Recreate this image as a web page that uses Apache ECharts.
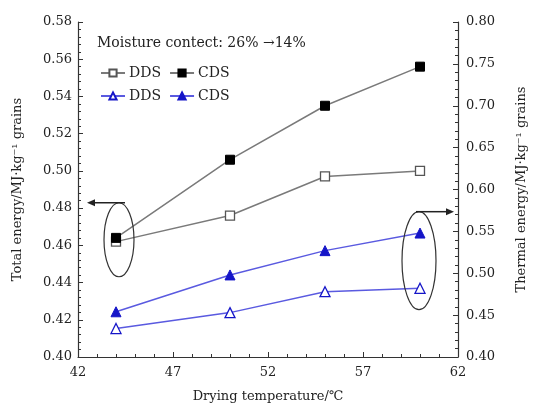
<!DOCTYPE html>
<html>
<head>
<meta charset="utf-8">
<script src="https://cdn.jsdelivr.net/npm/echarts@6/dist/echarts.min.js"></script>
<style>
html,body{margin:0;padding:0;background:#fff;}
#chart{width:536px;height:408px;}
</style>
</head>
<body>
<div id="chart"></div>
<script>
// ---- data ----
var temps = [44, 50, 55, 60];
var totalDDS = [0.462, 0.476, 0.497, 0.500];
var totalCDS = [0.464, 0.506, 0.535, 0.556];
var thermalDDS = [0.434, 0.453, 0.478, 0.482];
var thermalCDS = [0.454, 0.498, 0.527, 0.548];
var legendTitle = 'Moisture contect: 26% \u219214%';
var xName = 'Drying temperature/\u2103';
var yLeftName = 'Total energy/MJ\u00b7kg\u207b\u00b9 grains';
var yRightName = 'Thermal energy/MJ\u00b7kg\u207b\u00b9 grains';

function pairs(xs, ys) { return xs.map(function (x, i) { return [x, ys[i]]; }); }

var FONT = 'DejaVu Serif';
var axisColor = '#333';
var textColor = '#222';
var grayLine = '#7a7a7a';
var blueLine = '#5a5ae0';
var blueMark = '#1515c8';

var chart = echarts.init(document.getElementById('chart'), null, {renderer: 'canvas'});

function valAxis(min, max, interval, extra) {
  var a = {
    type: 'value', min: min, max: max, interval: interval,
    axisLine: {show: true, lineStyle: {color: axisColor, width: 1.2}},
    axisTick: {show: true, inside: true, length: 5, lineStyle: {color: axisColor}},
    minorTick: {show: true, splitNumber: 5, length: 3, lineStyle: {color: axisColor}},
    splitLine: {show: false},
    axisLabel: {color: textColor, fontFamily: FONT, fontSize: 13, margin: 6,
      formatter: function (v) { return v.toFixed(2); }},
    nameLocation: 'middle',
    nameTextStyle: {color: textColor, fontFamily: FONT, fontSize: 13}
  };
  for (var k in extra) a[k] = extra[k];
  return a;
}

var option = {
  animation: false,
  backgroundColor: '#fff',
  grid: {left: 78, right: 64, top: 22, bottom: 48, containLabel: false},
  title: {
    text: legendTitle, left: 92, top: 31,
    textStyle: {color: textColor, fontFamily: FONT, fontSize: 14, fontWeight: 'normal'}
  },
  legend: [
    {
      data: ['DDS-t', 'CDS-t'], left: 95, top: 61, itemWidth: 24, itemHeight: 9, itemGap: 8,
      formatter: function (n) { return n.split('-')[0]; },
      textStyle: {color: textColor, fontFamily: FONT, fontSize: 14, padding: [0, 0, 0, -1]}
    },
    {
      data: ['DDS-h', 'CDS-h'], left: 95, top: 84, itemWidth: 24, itemHeight: 9, itemGap: 8,
      formatter: function (n) { return n.split('-')[0]; },
      textStyle: {color: textColor, fontFamily: FONT, fontSize: 14, padding: [0, 0, 0, -1]}
    }
  ],
  xAxis: valAxis(42, 62, 5, {
    name: xName, nameGap: 33,
    axisLabel: {color: textColor, fontFamily: FONT, fontSize: 13, margin: 9}
  }),
  yAxis: [
    valAxis(0.40, 0.58, 0.02, {name: yLeftName, nameGap: 54, position: 'left'}),
    valAxis(0.40, 0.80, 0.05, {name: yRightName, nameGap: 57, position: 'right',
      axisLabel: {color: textColor, fontFamily: FONT, fontSize: 13, margin: 8,
        formatter: function (v) { return v.toFixed(2); }}})
  ],
  series: [
    {
      name: 'DDS-t', type: 'line', yAxisIndex: 0, data: pairs(temps, totalDDS),
      symbol: 'rect', symbolSize: 9,
      itemStyle: {color: '#fff', borderColor: '#555', borderWidth: 1.3},
      lineStyle: {color: grayLine, width: 1.5}
    },
    {
      name: 'CDS-t', type: 'line', yAxisIndex: 0, data: pairs(temps, totalCDS),
      symbol: 'rect', symbolSize: 9,
      itemStyle: {color: '#000', borderColor: '#000', borderWidth: 1},
      lineStyle: {color: grayLine, width: 1.5}
    },
    {
      name: 'DDS-h', type: 'line', yAxisIndex: 1, data: pairs(temps, thermalDDS),
      symbol: 'triangle', symbolSize: 10,
      itemStyle: {color: '#fff', borderColor: blueMark, borderWidth: 1.3},
      lineStyle: {color: blueLine, width: 1.5}
    },
    {
      name: 'CDS-h', type: 'line', yAxisIndex: 1, data: pairs(temps, thermalCDS),
      symbol: 'triangle', symbolSize: 10,
      itemStyle: {color: blueMark, borderColor: blueMark, borderWidth: 1},
      lineStyle: {color: blueLine, width: 1.5}
    }
  ]
};
chart.setOption(option);

// ---- annotations (ellipses + arrows), placed from data via the axes ----
function px(x, y, yi) {
  return chart.convertToPixel({xAxisIndex: 0, yAxisIndex: yi}, [x, y]);
}
var leftAxisX = px(42, 0.5, 0)[0];
var rightAxisX = px(62, 0.5, 0)[0];

var li = 0, ri = temps.length - 1;
var lc = px(temps[li], (totalDDS[li] + totalCDS[li]) / 2, 0);
var rc = px(temps[ri], (thermalDDS[ri] + thermalCDS[ri]) / 2, 1);
var lrx = 15, lry = 37, rrx = 17, rry = 49;
lc[0] += 3; rc[0] -= 1;

var ann = [];
ann.push({type: 'ellipse', shape: {cx: lc[0], cy: lc[1], rx: lrx, ry: lry},
  style: {fill: null, stroke: '#333', lineWidth: 1.2}, z: 10});
ann.push({type: 'ellipse', shape: {cx: rc[0], cy: rc[1], rx: rrx, ry: rry},
  style: {fill: null, stroke: '#333', lineWidth: 1.2}, z: 10});

// left arrow
var ly = lc[1] - lry;
var ltip = leftAxisX + 9;
ann.push({type: 'polyline', shape: {points: [[lc[0] + 6, ly], [ltip + 6, ly]]},
  style: {stroke: '#222', lineWidth: 1.5}, z: 10});
ann.push({type: 'polygon', shape: {points: [[ltip, ly], [ltip + 8, ly - 3.5], [ltip + 8, ly + 3.5]]},
  style: {fill: '#222'}, z: 10});
// right arrow
var ry = rc[1] - rry;
var rtip = rightAxisX - 4;
ann.push({type: 'polyline', shape: {points: [[rc[0] - 3, ry], [rtip - 6, ry]]},
  style: {stroke: '#222', lineWidth: 1.5}, z: 10});
ann.push({type: 'polygon', shape: {points: [[rtip, ry], [rtip - 8, ry - 3.5], [rtip - 8, ry + 3.5]]},
  style: {fill: '#222'}, z: 10});

chart.setOption({graphic: ann});
</script>
</body>
</html>
